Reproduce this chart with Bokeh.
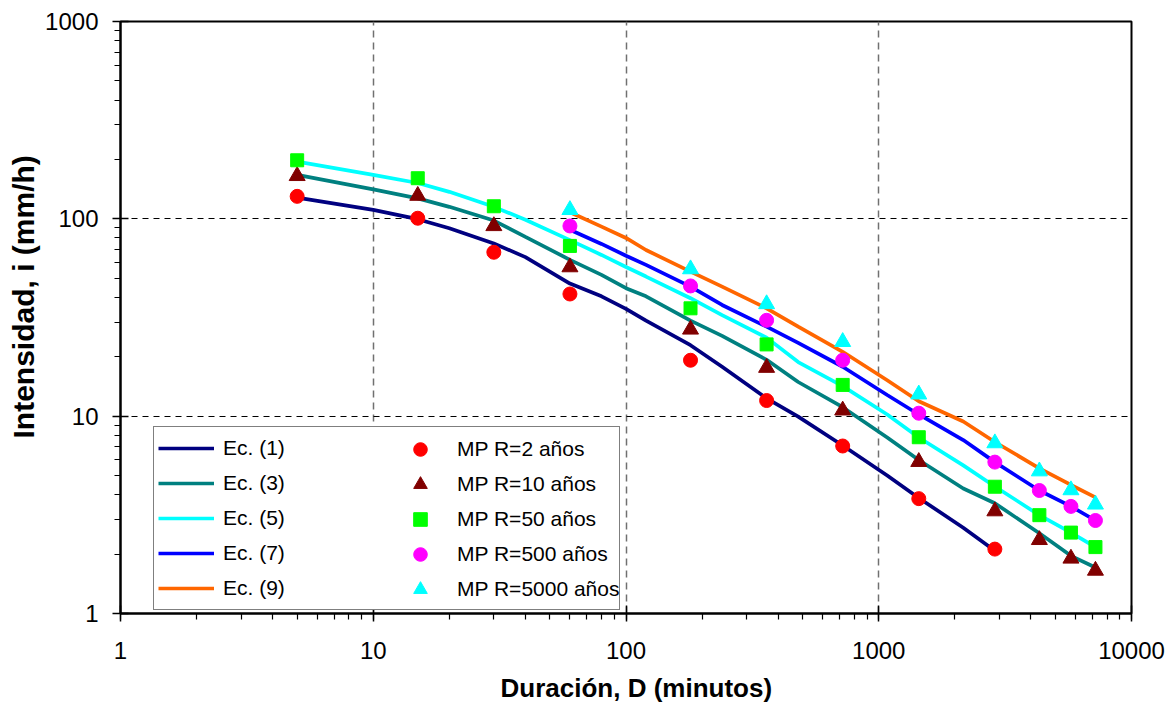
from bokeh.plotting import figure
from bokeh.models import (Legend, LegendItem, LogTicker, FixedTicker,
                          PrintfTickFormatter, Range1d, Title)
from bokeh.embed import file_html
from bokeh.resources import INLINE

# ---------------- data ----------------
# observed durations (minutes)
dur_obs = [5, 15, 30, 60, 180, 360, 720, 1440, 2880, 4320, 5760, 7200]
dur_r2 = [5, 15, 30, 60, 180, 360, 720, 1440, 2880]
mp_r2 = [130, 100.7, 67.7, 41.6, 19.2, 12.0, 7.06, 3.82, 2.12]
mp_r10 = [165, 131, 92, 56.9, 27.5, 17.6, 10.7, 5.87, 3.30, 2.36, 1.90, 1.65]
mp_r50 = [198, 160.6, 115.8, 72.9, 35.2, 23.1, 14.4, 7.82, 4.39, 3.15, 2.57, 2.17]
dur_high = [60, 180, 360, 720, 1440, 2880, 4320, 5760, 7200]
mp_r500 = [92, 45.7, 30.6, 19.2, 10.35, 5.85, 4.20, 3.49, 2.96]
mp_r5000 = [111, 55.6, 37.0, 23.8, 12.9, 7.3, 5.26, 4.22, 3.57]

# fitted equations
dur_line = [5, 10, 15, 20, 30, 40, 60, 80, 100, 120, 180, 240, 360, 480,
            720, 1080, 1440, 2160, 2880, 4320, 5760, 7200]
dur_ec1 = dur_line[:19]
ec1 = [128, 111, 99.6, 89.6, 75, 64, 47, 40.5, 35, 30.5, 22.9, 17.8, 12.3, 9.95,
       7.1, 5.0, 3.85, 2.72, 2.08]
ec3 = [167, 141, 127, 115, 98, 81, 62, 52, 44.5, 40.5, 30.5, 25.5, 19.3, 14.9,
       11.1, 7.8, 6.0, 4.3, 3.62, 2.55, 1.96, 1.71]
ec5 = [195, 167, 152, 137, 115, 99, 78, 65.6, 57, 51, 39.6, 32.5, 25, 18.8,
       14.2, 10.2, 7.8, 5.63, 4.4, 3.15, 2.57, 2.17]
dur_ec79 = dur_line[6:]
ec7 = [88, 74.6, 65, 58.4, 45.3, 36.6, 28.4, 23.5, 17.8, 12.8, 10.2, 7.57,
       5.85, 4.2, 3.49, 2.96]
ec9 = [108, 91.3, 80, 69.5, 54, 45.3, 35.2, 28.4, 21.2, 15.2, 11.9, 9.4,
       7.4, 5.44, 4.48, 3.88]

x_grid_ticks = [10, 100, 1000]
y_grid_ticks = [10, 100]

x_title = "Duración, D (minutos)"
y_title = "Intensidad, i (mm/h)"
line_labels = ["Ec. (1)", "Ec. (3)", "Ec. (5)", "Ec. (7)", "Ec. (9)"]
mark_labels = ["MP R=2 años", "MP R=10 años", "MP R=50 años",
               "MP R=500 años", "MP R=5000 años"]

FONT = "Liberation Sans"

# ---------------- figure ----------------
p = figure(width=1174, height=711, x_axis_type="log", y_axis_type="log",
           x_range=Range1d(1, 10000), y_range=Range1d(1, 1000),
           output_backend="svg", toolbar_location=None,
           min_border_left=120, min_border_right=43,
           min_border_top=21, min_border_bottom=98)
p.background_fill_color = "white"
p.border_fill_color = "white"
p.outline_line_color = "black"
p.outline_line_width = 2

for ax in (p.xaxis[0], p.yaxis[0]):
    ax.ticker = LogTicker(num_minor_ticks=10)
    ax.formatter = PrintfTickFormatter(format="%d")
    ax.axis_line_color = "black"
    ax.axis_line_width = 2
    ax.major_tick_in = 8
    ax.major_tick_out = 8
    ax.minor_tick_in = 0
    ax.minor_tick_out = 6
    ax.major_tick_line_width = 1.5
    ax.minor_tick_line_width = 1.2
    ax.major_tick_line_color = "black"
    ax.minor_tick_line_color = "black"
    ax.major_label_text_font = FONT
    ax.major_label_text_font_size = "24px"
    ax.major_label_text_color = "black"

p.xaxis.major_label_standoff = 20
p.yaxis.major_label_standoff = 14

p.add_layout(Title(text=x_title, align="left", offset=380,
                   text_font=FONT, text_font_size="26px",
                   text_font_style="bold", text_color="black",
                   standoff=18), "below")
p.add_layout(Title(text=y_title, align="left", offset=175,
                   text_font=FONT, text_font_size="30px",
                   text_font_style="bold", text_color="black",
                   standoff=6), "left")

p.xgrid.ticker = FixedTicker(ticks=x_grid_ticks)
p.ygrid.ticker = FixedTicker(ticks=y_grid_ticks)
p.xgrid.grid_line_color = "#707070"
p.xgrid.grid_line_dash = "7 5"
p.xgrid.grid_line_width = 1.5
p.ygrid.grid_line_color = "black"
p.ygrid.grid_line_dash = "6 5"
p.ygrid.grid_line_width = 1.2
p.xgrid.minor_grid_line_color = None
p.ygrid.minor_grid_line_color = None

LW = 3.7
l1 = p.line(dur_ec1, ec1, line_color="#000080", line_width=LW)
l3 = p.line(dur_line, ec3, line_color="#008080", line_width=LW)
l5 = p.line(dur_line, ec5, line_color="#00FFFF", line_width=LW)
l7 = p.line(dur_ec79, ec7, line_color="#0000FF", line_width=LW)
l9 = p.line(dur_ec79, ec9, line_color="#FF6600", line_width=LW)

m2 = p.scatter(dur_r2, mp_r2, marker="circle", size=14,
               fill_color="#FF0000", line_color="#FF0000")
m10 = p.scatter(dur_obs, mp_r10, marker="triangle", size=16,
                fill_color="#800000", line_color="#800000")
m50 = p.scatter(dur_obs, mp_r50, marker="square", size=13,
                fill_color="#00FF00", line_color="#00FF00")
m500 = p.scatter(dur_high, mp_r500, marker="circle", size=14,
                 fill_color="#FF00FF", line_color="#FF00FF")
m5000 = p.scatter(dur_high, mp_r5000, marker="triangle", size=16,
                  fill_color="#00FFFF", line_color="#00FFFF")

common = dict(orientation="vertical", label_text_font=FONT,
              label_text_font_size="21px", label_text_color="black",
              glyph_width=56, glyph_height=34, label_height=20,
              label_standoff=9, spacing=1, padding=4)

legend_lines = Legend(items=[LegendItem(label=lab, renderers=[r]) for lab, r in
                             zip(line_labels, [l1, l3, l5, l7, l9])],
                      location=(33, 3), label_width=392,
                      border_line_color="black", border_line_width=1.2,
                      background_fill_color="white", background_fill_alpha=1.0,
                      **common)
legend_marks = Legend(items=[LegendItem(label=lab, renderers=[r]) for lab, r in
                             zip(mark_labels, [m2, m10, m50, m500, m5000])],
                      location=(268, 3), label_width=20,
                      border_line_alpha=0, background_fill_alpha=0,
                      **common)
p.add_layout(legend_lines, "center")
p.add_layout(legend_marks, "center")

open("out.html", "w").write(file_html(p, INLINE))
